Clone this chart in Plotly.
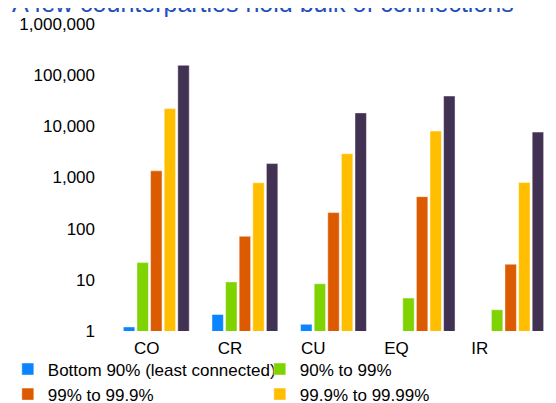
import plotly.graph_objects as go

categories = ["CO", "CR", "CU", "EQ", "IR"]
series_names = [
    "Bottom 90% (least connected)",
    "90% to 99%",
    "99% to 99.9%",
    "99.9% to 99.99%",
    "Top 0.01% (most connected)",
]
bottom_90 = [1.2, 2.1, 1.35, None, None]
p90_99 = [21.7, 9.1, 8.4, 4.4, 2.6]
p99_999 = [1350, 71, 206, 422, 20.2]
p999_9999 = [22200, 790, 2920, 8070, 800]
top_001 = [156000, 1870, 18300, 39100, 7710]
colors = ["#0a84ff", "#7ed300", "#dc5a00", "#ffbf00", "#413152"]
y_tickvals = [1, 10, 100, 1000, 10000, 100000, 1000000]
y_ticktext = ["1", "10", "100", "1,000", "10,000", "100,000", "1,000,000"]

all_series = [bottom_90, p90_99, p99_999, p999_9999, top_001]

# page body adds an 8px margin, so the figure is 8px smaller and shifted
W, H = 548, 395
ml, mr, mt, mb = 104.2, 0.7, 16, 71.5
pw = W - ml - mr
ph = H - mt - mb

fig = go.Figure()
for name, vals, col in zip(series_names, all_series, colors):
    fig.add_trace(go.Bar(
        x=list(range(len(categories))), y=vals, name=name,
        marker=dict(color=col, line=dict(color="rgba(255,255,255,0.45)", width=1)),
    ))

# label axis overlays the bar axis, with its own scale so labels sit as in the reference
px_per_unit = 83.25
lab_r0 = -(139 - ml) / px_per_unit
lab_r1 = lab_r0 + pw / px_per_unit
fig.add_trace(go.Scatter(
    x=list(range(len(categories))), y=[None] * len(categories),
    xaxis="x2", yaxis="y", mode="markers", showlegend=False, hoverinfo="skip",
))

fig.update_layout(
    width=W, height=H,
    margin=dict(l=ml, r=mr, t=mt, b=mb, autoexpand=False),
    paper_bgcolor="white", plot_bgcolor="rgba(0,0,0,0)",
    font=dict(family="Liberation Sans, Arial, sans-serif", size=17, color="#000000"),
    barmode="group", bargap=0.232, bargroupgap=0.16,
    xaxis=dict(
        range=[-0.5, 4.5], showticklabels=False, showgrid=False,
        zeroline=False, showline=False, ticks="",
    ),
    xaxis2=dict(
        overlaying="x", anchor="y", side="bottom",
        range=[lab_r0, lab_r1], tickmode="array",
        tickvals=list(range(len(categories))), ticktext=categories,
        showgrid=False, zeroline=False, showline=False, ticks="",
        ticklabelstandoff=5, tickfont=dict(size=17),
    ),
    yaxis=dict(
        type="log", range=[0, 6], tickmode="array",
        tickvals=y_tickvals, ticktext=y_ticktext,
        showgrid=False, zeroline=False, showline=False, ticks="",
        ticklabelstandoff=16, tickfont=dict(size=17),
    ),
    legend=dict(
        orientation="h", x=-ml / pw, xanchor="left",
        y=-20.5 / ph, yanchor="top",
        entrywidth=207, entrywidthmode="pixels",
        font=dict(size=17),
        bgcolor="rgba(0,0,0,0)", tracegroupgap=0,
    ),
    showlegend=True,
    annotations=[dict(
        text="A few counterparties hold bulk of connections",
        font=dict(size=25, color="#1f4fbf"),
        xref="paper", x=(2 - ml) / pw, xanchor="left",
        yref="paper", y=1 + 21 / ph, yanchor="middle",
        showarrow=False,
    )],
)

fig.write_html("out.html")
